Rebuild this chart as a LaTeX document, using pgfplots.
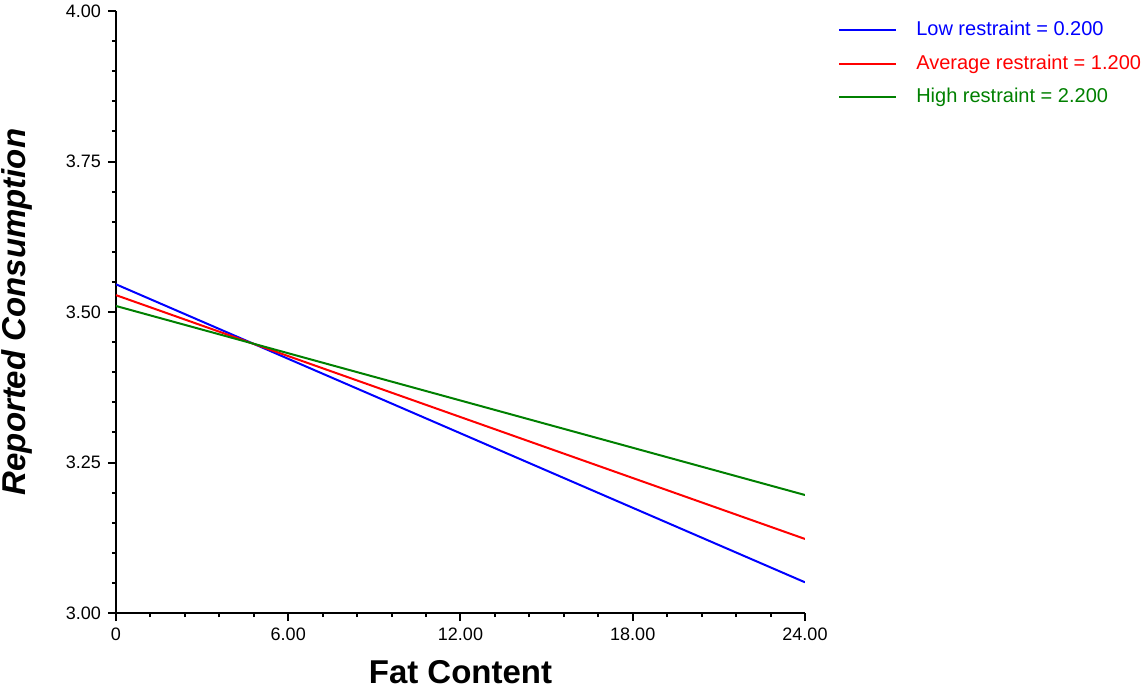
\documentclass[border=0pt]{standalone}
\usepackage{fontspec}
\setmainfont{Liberation Sans}
\usepackage{pgfplots}
\pgfplotsset{compat=1.18}
\definecolor{lblue}{RGB}{0,0,255}
\definecolor{lred}{RGB}{255,0,0}
\definecolor{lgreen}{RGB}{0,128,0}
\begin{document}
\begin{tikzpicture}
\begin{axis}[
  name=ax, at={(0,0)}, anchor=south west,
  scale only axis, width=344.5pt, height=301pt,
  xmin=0, xmax=24, ymin=3, ymax=4,
  axis lines=left, axis line style={-, line width=1pt},
  xtick={0,6,12,18,24}, xticklabels={0,6.00,12.00,18.00,24.00},
  ytick={3,3.25,3.5,3.75,4},
  minor x tick num=4, minor y tick num=4,
  tick align=outside, major tick length=4pt, minor tick length=2pt,
  tick style={black, line width=1pt},
  yticklabel style={/pgf/number format/.cd, fixed, fixed zerofill, precision=2, assume math mode=true},
  ticklabel style={font=\fontsize{9}{11}\selectfont},
  xlabel={\bfseries Fat Content},
  ylabel={\bfseries\itshape Reported Consumption},
  label style={font=\fontsize{16.5}{19}\selectfont},
  xlabel style={at={(rel axis cs:0.5,0)}, anchor=base, yshift=-35pt},
  ylabel style={at={(rel axis cs:0,0.5)}, anchor=center, yshift=49.5pt},
  legend style={draw=none, fill=none, at={(rel axis cs:1.039,0.9967)}, anchor=north west,
    font=\fontsize{10}{12}\selectfont, row sep=4pt, column sep=7.5pt},
  legend cell align=left,
  legend image code/.code={\draw[#1] (0pt,0pt) -- (28.5pt,0pt);},
]
% regression lines
\addplot[lblue, line width=1pt, forget plot] coordinates {(0,3.546) (24,3.051)};
\addplot[lred, line width=1pt, forget plot] coordinates {(0,3.528) (24,3.123)};
\addplot[lgreen, line width=1pt, forget plot] coordinates {(0,3.510) (24,3.196)};
% legend
\addlegendimage{draw=lblue, line width=1pt}
\addlegendentry{\textcolor{lblue}{Low restraint = 0.200}}
\addlegendimage{draw=lred, line width=1pt}
\addlegendentry{\textcolor{lred}{Average restraint = 1.200}}
\addlegendimage{draw=lgreen, line width=1pt}
\addlegendentry{\textcolor{lgreen}{High restraint = 2.200}}
\end{axis}
\pgfresetboundingbox
\path (-58pt,-37pt) rectangle (515.5pt,306.5pt);
\end{tikzpicture}
\end{document}
